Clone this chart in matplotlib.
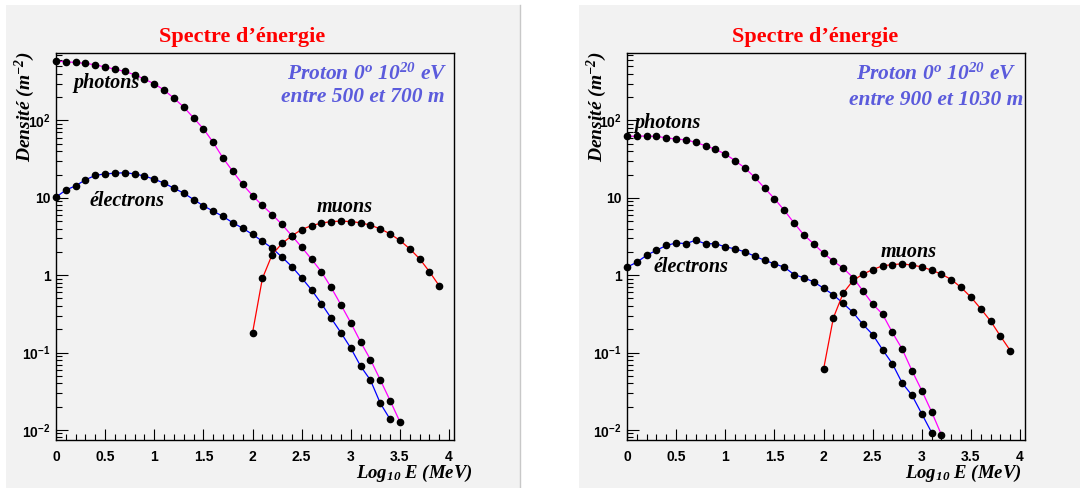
import matplotlib
matplotlib.use("Agg")
import matplotlib.pyplot as plt
from matplotlib.patches import Rectangle
from matplotlib.ticker import FixedLocator, FixedFormatter, MultipleLocator, LogLocator, NullFormatter

# Polices : serif gras italique pour les textes, sans gras pour les graduations
plt.rcParams['mathtext.fontset'] = 'custom'
plt.rcParams['mathtext.rm'] = 'Liberation Serif:bold:italic'
plt.rcParams['mathtext.it'] = 'Liberation Serif:bold:italic'
plt.rcParams['mathtext.sf'] = 'Liberation Sans:bold'

# ---- donnees : panneau gauche (entre 500 et 700 m) ----
x_photons_a = [0.0, 0.1, 0.2, 0.3, 0.4, 0.5, 0.6, 0.7, 0.8, 0.9, 1.0, 1.1, 1.2, 1.3, 1.4, 1.5, 1.6, 1.7,
               1.8, 1.9, 2.0, 2.1, 2.2, 2.3, 2.4, 2.5, 2.6, 2.7, 2.8, 2.9, 3.0, 3.1, 3.2, 3.3, 3.4, 3.5]
photons_a = [585, 574, 562, 546, 525, 490, 461, 430, 390, 342, 298, 247, 194, 149, 108, 78, 52, 32.6,
             21.9, 14.9, 10.7, 7.96, 6.08, 4.52, 3.23, 2.30, 1.61, 1.11, 0.693, 0.413, 0.242, 0.137,
             0.081, 0.0443, 0.0239, 0.0127]
x_electrons_a = [0.0, 0.1, 0.2, 0.3, 0.4, 0.5, 0.6, 0.7, 0.8, 0.9, 1.0, 1.1, 1.2, 1.3, 1.4, 1.5, 1.6, 1.7,
                 1.8, 1.9, 2.0, 2.1, 2.2, 2.3, 2.4, 2.5, 2.6, 2.7, 2.8, 2.9, 3.0, 3.1, 3.2, 3.3, 3.4]
electrons_a = [10.2, 12.6, 14.3, 17.1, 19.5, 20.4, 20.8, 21.1, 20.4, 19.1, 17.4, 15.5, 13.3, 11.5, 9.5,
               7.88, 6.73, 5.74, 4.75, 4.05, 3.36, 2.75, 2.23, 1.71, 1.29, 0.924, 0.646, 0.43, 0.278,
               0.18, 0.114, 0.0666, 0.0439, 0.0221, 0.0137]
x_muons_a = [2.0, 2.1, 2.2, 2.3, 2.4, 2.5, 2.6, 2.7, 2.8, 2.9, 3.0, 3.1, 3.2, 3.3, 3.4, 3.5, 3.6, 3.7, 3.8, 3.9]
muons_a = [0.18, 0.906, 1.85, 2.57, 3.23, 3.89, 4.38, 4.70, 4.94, 4.99, 4.94, 4.75, 4.43, 3.97, 3.42,
           2.81, 2.19, 1.63, 1.11, 0.728]

# ---- donnees : panneau droit (entre 900 et 1030 m) ----
x_photons_b = [0.0, 0.1, 0.2, 0.3, 0.4, 0.5, 0.6, 0.7, 0.8, 0.9, 1.0, 1.1, 1.2, 1.3, 1.4, 1.5, 1.6, 1.7,
               1.8, 1.9, 2.0, 2.1, 2.2, 2.3, 2.4, 2.5, 2.6, 2.7, 2.8, 2.9, 3.0, 3.1, 3.2]
photons_b = [62.2, 62.8, 62.8, 62.2, 59.7, 57.4, 56.3, 52.0, 47.1, 42.3, 36.8, 30.2, 24.3, 18.4, 13.4,
             9.76, 6.90, 4.73, 3.31, 2.54, 1.92, 1.52, 1.23, 0.933, 0.628, 0.423, 0.314, 0.182, 0.111,
             0.0583, 0.0322, 0.0171, 0.0086]
x_electrons_b = [0.0, 0.1, 0.2, 0.3, 0.4, 0.5, 0.6, 0.7, 0.8, 0.9, 1.0, 1.1, 1.2, 1.3, 1.4, 1.5, 1.6, 1.7,
                 1.8, 1.9, 2.0, 2.1, 2.2, 2.3, 2.4, 2.5, 2.6, 2.7, 2.8, 2.9, 3.0, 3.1]
electrons_b = [1.27, 1.47, 1.81, 2.10, 2.42, 2.61, 2.56, 2.83, 2.54, 2.56, 2.32, 2.19, 2.00, 1.76, 1.56,
               1.40, 1.27, 1.02, 0.924, 0.82, 0.679, 0.557, 0.431, 0.33, 0.231, 0.171, 0.109, 0.0718,
               0.0404, 0.028, 0.0161, 0.00924]
x_muons_b = [2.0, 2.1, 2.2, 2.3, 2.4, 2.5, 2.6, 2.7, 2.8, 2.9, 3.0, 3.1, 3.2, 3.3, 3.4, 3.5, 3.6, 3.7, 3.8, 3.9]
muons_b = [0.0607, 0.281, 0.586, 0.853, 1.03, 1.18, 1.32, 1.37, 1.40, 1.35, 1.28, 1.16, 1.03, 0.879,
           0.693, 0.52, 0.368, 0.255, 0.163, 0.106]

y_ticks = [1e-2, 1e-1, 1, 10, 100]
y_tick_labels = [r'$\mathsf{10^{-2}}$', r'$\mathsf{10^{-1}}$', '1', '10', r'$\mathsf{10^{2}}$']
x_ticks = [0, 0.5, 1, 1.5, 2, 2.5, 3, 3.5, 4]
x_tick_labels = ['0', '0.5', '1', '1.5', '2', '2.5', '3', '3.5', '4']

titre = 'Spectre d\u2019énergie'
ligne1 = r'Proton 0$^{o}$ 10$^{20}$ eV'
textes_distance = ['entre 500 et 700 m', 'entre 900 et 1030 m']

W, H = 1080, 488
fig = plt.figure(figsize=(W / 100, H / 100), dpi=100)
fig.patch.set_facecolor('white')

# fonds gris des deux canevas
fig.patches.append(Rectangle((6 / W, 0), (520 - 6) / W, 483 / H, transform=fig.transFigure,
                             facecolor='#f2f2f2', edgecolor='none', zorder=-10))
fig.patches.append(Rectangle((579 / W, 0), (W - 579) / W, 483 / H, transform=fig.transFigure,
                             facecolor='#f2f2f2', edgecolor='none', zorder=-10))
fig.lines.append(plt.Line2D([520 / W, 520 / W], [0, 483 / H], transform=fig.transFigure,
                            color='#c8c8c8', lw=1))

serif = 'Liberation Serif'
sans = 'Liberation Sans'
bleu_txt = '#5b5bdc'

panneaux = [
    dict(left=56, xp=x_photons_a, p=photons_a, xe=x_electrons_a, e=electrons_a, xm=x_muons_a, m=muons_a,
         lab_p=(0.52, 301), lab_e=(0.72, 9.2), lab_m=(2.94, 7.5),
         t1=(0.985, 0.946), t2=(0.977, 0.886), titre_x=242, ylab_x=25, xlab_x=473),
    dict(left=627, xp=x_photons_b, p=photons_b, xe=x_electrons_b, e=electrons_b, xm=x_muons_b, m=muons_b,
         lab_p=(0.41, 93), lab_e=(0.655, 1.26), lab_m=(2.87, 2.02),
         t1=(0.98, 0.946), t2=(0.995, 0.879), titre_x=815, ylab_x=597, xlab_x=1022),
]

for i, pn in enumerate(panneaux):
    ax = fig.add_axes([pn['left'] / W, 48 / H, 398 / W, 387 / H])
    ax.set_facecolor('#f2f2f2')

    # courbes puis points noirs
    ax.plot(pn['xp'], pn['p'], color='#ff00ff', lw=0.9, zorder=2)
    ax.plot(pn['xe'], pn['e'], color='#0000ff', lw=0.9, zorder=2)
    ax.plot(pn['xm'], pn['m'], color='#ff0000', lw=0.9, zorder=2)
    for xs, ys in [(pn['xp'], pn['p']), (pn['xe'], pn['e']), (pn['xm'], pn['m'])]:
        ax.plot(xs, ys, 'o', color='black', ms=4.5, zorder=3, clip_on=False)

    ax.set_yscale('log')
    ax.set_xlim(0, 4.05)
    ax.set_ylim(0.0074, 745)

    ax.xaxis.set_major_locator(FixedLocator(x_ticks))
    ax.xaxis.set_major_formatter(FixedFormatter(x_tick_labels))
    ax.xaxis.set_minor_locator(MultipleLocator(0.1))
    ax.yaxis.set_major_locator(FixedLocator(y_ticks))
    ax.yaxis.set_major_formatter(FixedFormatter(y_tick_labels))
    ax.yaxis.set_minor_locator(LogLocator(base=10, subs=range(2, 10)))
    ax.yaxis.set_minor_formatter(NullFormatter())

    ax.tick_params(which='both', direction='in', top=False, right=False, width=0.8, color='black')
    ax.tick_params(axis='y', which='major', length=8.5, pad=4)
    ax.tick_params(axis='y', which='minor', length=4)
    ax.tick_params(axis='x', which='major', length=8, pad=7)
    ax.tick_params(axis='x', which='minor', length=4.3)
    for lab in ax.get_xticklabels() + ax.get_yticklabels():
        lab.set_fontfamily(sans)
        lab.set_fontweight('bold')
        lab.set_fontsize(10)
    for s in ax.spines.values():
        s.set_linewidth(1.0)

    # noms des particules
    for txt, pos in [('photons', pn['lab_p']), ('électrons', pn['lab_e']), ('muons', pn['lab_m'])]:
        ax.text(pos[0], pos[1], txt, family=serif, style='italic', weight='bold', fontsize=14.5,
                ha='center', va='center', zorder=4)

    ax.text(pn['t1'][0], pn['t1'][1], ligne1, transform=ax.transAxes, family=serif, style='italic',
            weight='bold', fontsize=15.5, color=bleu_txt, ha='right', va='center')
    ax.text(pn['t2'][0], pn['t2'][1], textes_distance[i], transform=ax.transAxes, family=serif,
            style='italic', weight='bold', fontsize=15.5, color=bleu_txt, ha='right', va='center')

    fig.text(pn['titre_x'] / W, 1 - 37 / H, titre, family=serif, weight='bold', fontsize=16,
             color='#ff0000', ha='center', va='center')
    fig.text(pn['ylab_x'] / W, 1 - 52 / H, r'Densité (m$^{-2}$)', family=serif, style='italic',
             weight='bold', fontsize=14, rotation=90, ha='center', va='top')
    fig.text(pn['xlab_x'] / W, 1 - 473 / H, r'Log$_{10}$ E (MeV)', family=serif, style='italic',
             weight='bold', fontsize=13.5, ha='right', va='center')

plt.savefig('out.png', dpi=100)
